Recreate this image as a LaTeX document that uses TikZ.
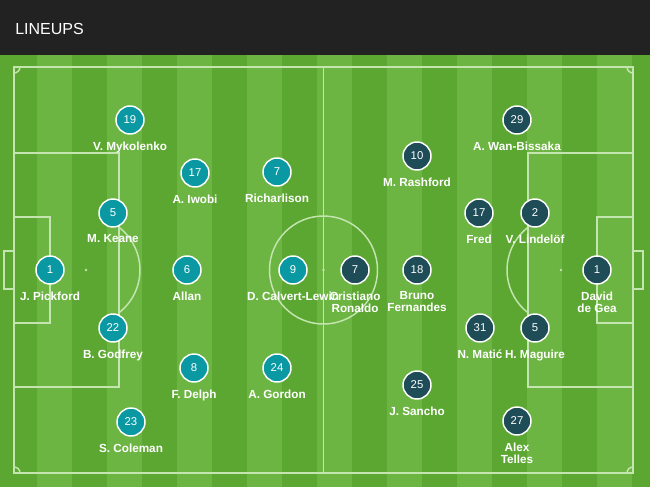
\documentclass[tikz,border=0pt]{standalone}
\usepackage{fontspec}
\setmainfont{Liberation Sans}
\usetikzlibrary{positioning}
\definecolor{topbar}{RGB}{34,34,34}
\definecolor{grasslight}{RGB}{108,181,66}
\definecolor{grassdark}{RGB}{92,167,50}
\definecolor{chalk}{RGB}{196,228,176}
\definecolor{evteal}{RGB}{10,153,163}
\definecolor{mudark}{RGB}{30,76,87}

\begin{document}
\begin{tikzpicture}[
    x=0.75pt, y=-0.75pt,
    chalkline/.style={draw=chalk, line width=1.1pt},
    home/.style={circle, fill=evteal, draw=white, line width=1.1pt,
      minimum size=21pt, inner sep=0pt, text=white,
      font=\fontsize{8.5}{10}\selectfont},
    away/.style={home, fill=mudark},
    pname/.style={inner sep=0pt, text=white, align=center,
      font=\fontsize{8.8}{8.9}\selectfont\bfseries}
  ]
  \useasboundingbox (0,0) rectangle (650,487);
  \fill[topbar] (0,0) rectangle (650,55);
  \fill[grasslight] (0,55) rectangle (650,487);
  \fill[grassdark] (0,55) rectangle (2,487);
  \foreach \x in {2,72,...,632}
    \fill[grassdark] (\x,55) rectangle ({min(\x+35,650)},487);
  \node (title) [anchor=base west, inner sep=0pt, text=white,
    font=\fontsize{12}{13}\selectfont] at (15,34) {LINEUPS};

  \draw[chalkline] (14,67) rectangle (633,473);
  \draw[chalkline] (323.5,67) -- (323.5,473);
  \draw[chalkline] (323.5,270) circle[radius=40.5pt];
  \draw[chalkline] (14,153) rectangle (119,387);
  \draw[chalkline] (528,153) rectangle (633,387);
  \draw[chalkline] (14,217) rectangle (50,323);
  \draw[chalkline] (597,217) rectangle (633,323);
  \draw[chalkline] (4,251) rectangle (14,289);
  \draw[chalkline] (633,251) rectangle (643,289);
  \draw[chalkline] (119,312.7) arc[start angle=-52.3, end angle=52.3, radius=40.5pt];
  \draw[chalkline] (528,227.3) arc[start angle=127.7, end angle=232.3, radius=40.5pt];
  \draw[chalkline] (14,73) arc[start angle=-90, end angle=0, radius=4.5pt];
  \draw[chalkline] (627,67) arc[start angle=180, end angle=270, radius=4.5pt];
  \draw[chalkline] (20,473) arc[start angle=0, end angle=90, radius=4.5pt];
  \draw[chalkline] (633,467) arc[start angle=90, end angle=180, radius=4.5pt];
  \fill[chalk] (323.5,270) circle[radius=1.1pt]
    (86,270) circle[radius=1.1pt]
    (561,270) circle[radius=1.1pt];

  \path (130,120) node(h19) [home] {19}
    (195,173) node(h17) [home] {17}
    (277,172) node(h7) [home] {7}
    (113,213) node(h5) [home] {5}
    (50,270) node(h1) [home] {1}
    (187,270) node(h6) [home] {6}
    (293,270) node(h9) [home] {9}
    (113,328) node(h22) [home] {22}
    (194,368) node(h8) [home] {8}
    (277,368) node(h24) [home] {24}
    (131,422) node(h23) [home] {23};
  \node (th19) [pname, below=5pt of h19] {V. Mykolenko};
  \node (th17) [pname, below=5pt of h17] {A. Iwobi};
  \node (th7) [pname, below=5pt of h7] {Richarlison};
  \node (th5) [pname, below=5pt of h5] {M. Keane};
  \node (th1) [pname, below=5pt of h1] {J. Pickford};
  \node (th6) [pname, below=5pt of h6] {Allan};
  \node (th9) [pname, below=5pt of h9] {D. Calvert-Lewin};
  \node (th22) [pname, below=5pt of h22] {B. Godfrey};
  \node (th8) [pname, below=5pt of h8] {F. Delph};
  \node (th24) [pname, below=5pt of h24] {A. Gordon};
  \node (th23) [pname, below=5pt of h23] {S. Coleman};

  \path (517,120) node(a29) [away] {29}
    (417,156) node(a10) [away] {10}
    (479,213) node(a17) [away] {17}
    (535,213) node(a2) [away] {2}
    (597,270) node(a1) [away] {1}
    (355,270) node(a7) [away] {7}
    (417,270) node(a18) [away] {18}
    (480,328) node(a31) [away] {31}
    (535,328) node(a5) [away] {5}
    (417,385) node(a25) [away] {25}
    (517,421) node(a27) [away] {27};
  \node (ta29) [pname, below=5pt of a29] {A. Wan-Bissaka};
  \node (ta10) [pname, below=5pt of a10] {M. Rashford};
  \node (ta17) [pname, below=5pt of a17] {Fred};
  \node (ta2) [pname, below=5pt of a2] {V. Lindelöf};
  \node (ta1) [pname, below=5pt of a1] {David\\de Gea};
  \node (ta7) [pname, below=5pt of a7] {Cristiano\\Ronaldo};
  \node (ta18) [pname, below=5pt of a18] {Bruno\\Fernandes};
  \node (ta31) [pname, below=5pt of a31] {N. Matić};
  \node (ta5) [pname, below=5pt of a5] {H. Maguire};
  \node (ta25) [pname, below=5pt of a25] {J. Sancho};
  \node (ta27) [pname, below=5pt of a27] {Alex\\Telles};
\end{tikzpicture}
\end{document}
